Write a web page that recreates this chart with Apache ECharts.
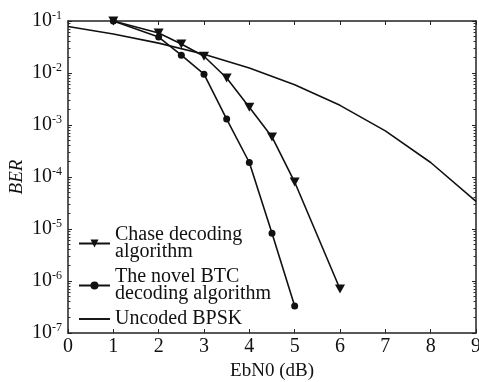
<!DOCTYPE html>
<html>
<head>
<meta charset="utf-8">
<script src="https://cdn.jsdelivr.net/npm/echarts@6/dist/echarts.min.js"></script>
<style>
  html, body { margin: 0; padding: 0; background: #fff; }
  #chart { width: 479px; height: 382px; }
</style>
</head>
<body>
<div id="chart"></div>
<script>
// values
const chaseX = [1, 2, 2.5, 3, 3.5, 4, 4.5, 5, 6];
const chaseBer = [0.1, 0.059, 0.036, 0.021, 0.008, 0.0022, 5.9e-4, 8e-5, 7e-7];
const novelX = [1, 2, 2.5, 3, 3.5, 4, 4.5, 5];
const novelBer = [0.1, 0.049, 0.022, 0.0095, 0.0013, 1.9e-4, 8.3e-6, 3.3e-7];
const bpskX = [0, 1, 2, 3, 4, 5, 6, 7, 8, 9];
const bpskBer = [0.0786, 0.0563, 0.0375, 0.0229, 0.0125, 0.00595, 0.00239, 7.7e-4, 1.9e-4, 3.4e-5];
const xTicks = [0, 1, 2, 3, 4, 5, 6, 7, 8, 9];
const decades = [-7, -6, -5, -4, -3, -2];

const serif = '"Liberation Serif", "DejaVu Serif", serif';
const pairs = (xs, ys) => xs.map((x, i) => [x, ys[i]]);
const downTri = 'path://M0,0 L10,0 L5,9 Z';
const lineIcon = 'path://M0,0 L32,0 L32,2 L0,2 Z';

// minor tick spots, as exponents, for an overlay grid with a linear axis
const minorTicks = [];
decades.forEach(e => { for (let k = 2; k <= 9; k++) minorTicks.push(e + Math.log10(k)); });

const chart = echarts.init(document.getElementById('chart'));

const expLabel = v => '{b|10}{s|' + Math.round(Math.log10(v)) + '}';
const gridBox = { left: 68, right: 3, top: 21, bottom: 49, outerBoundsMode: 'none' };
const frameLine = { show: true, onZero: false, lineStyle: { color: '#222', width: 1.5 } };

const minorAxis = pos => ({
  gridIndex: 1, type: 'value', min: -7, max: -1, position: pos,
  axisLine: { show: false, onZero: false },
  axisTick: { show: true, inside: true, length: 2.5, customValues: minorTicks, lineStyle: { color: '#333' } },
  axisLabel: { show: false },
  splitLine: { show: false }
});

chart.setOption({
  animation: false,
  grid: [gridBox, Object.assign({}, gridBox)],
  xAxis: [
    {
      type: 'value', min: 0, max: 9, interval: 1, position: 'bottom',
      name: 'EbN0 (dB)', nameLocation: 'middle', nameGap: 29,
      nameTextStyle: { fontFamily: serif, fontSize: 19, color: '#111' },
      axisLine: frameLine,
      axisTick: { inside: true, length: 4, lineStyle: { color: '#222' } },
      axisLabel: {
        fontFamily: serif, fontSize: 20, color: '#111', margin: 4,
        formatter: v => xTicks.includes(v) ? String(v) : ''
      },
      splitLine: { show: false }
    },
    {
      type: 'value', min: 0, max: 9, interval: 1, position: 'top',
      axisLine: frameLine,
      axisTick: { inside: true, length: 4, lineStyle: { color: '#222' } },
      axisLabel: { show: false },
      splitLine: { show: false }
    },
    {
      gridIndex: 1, type: 'value', min: 0, max: 9,
      axisLine: { show: false, onZero: false }, axisTick: { show: false },
      axisLabel: { show: false }, splitLine: { show: false }
    }
  ],
  yAxis: [
    {
      type: 'log', logBase: 10, min: 1e-7, max: 1e-1, position: 'left',
      name: 'BER', nameLocation: 'middle', nameGap: 42, nameRotate: 90, nameMoveOverlap: false,
      nameTextStyle: { fontFamily: serif, fontSize: 19, fontStyle: 'italic', color: '#111' },
      axisLine: frameLine,
      axisTick: { inside: true, length: 4, lineStyle: { color: '#222' } },
      axisLabel: {
        margin: 6, formatter: expLabel,
        rich: {
          b: { fontFamily: serif, fontSize: 20, color: '#111' },
          s: { fontFamily: serif, fontSize: 12, color: '#111', padding: [0, 0, 10, 0] }
        }
      },
      splitLine: { show: false }
    },
    {
      type: 'log', logBase: 10, min: 1e-7, max: 1e-1, position: 'right',
      axisLine: frameLine,
      axisTick: { inside: true, length: 4, lineStyle: { color: '#222' } },
      axisLabel: { show: false },
      splitLine: { show: false }
    },
    minorAxis('left'),
    minorAxis('right')
  ],
  legend: {
    orient: 'vertical', left: 78, top: 225, padding: 0,
    itemWidth: 31, itemHeight: 10, itemGap: 5, textGap: 4,
    textStyle: { fontFamily: serif, fontSize: 20, color: '#111', lineHeight: 17 },
    data: [
      { name: 'Chase decoding\nalgorithm' },
      { name: 'The novel BTC\ndecoding algorithm' },
      { name: 'Uncoded BPSK', icon: lineIcon, itemStyle: { color: '#111' } }
    ]
  },
  series: [
    {
      name: 'Chase decoding\nalgorithm', type: 'line',
      data: pairs(chaseX, chaseBer),
      symbol: downTri, symbolSize: [10, 9],
      lineStyle: { color: '#111', width: 1.6 },
      itemStyle: { color: '#111' }
    },
    {
      name: 'The novel BTC\ndecoding algorithm', type: 'line',
      data: pairs(novelX, novelBer),
      symbol: 'circle', symbolSize: 7,
      lineStyle: { color: '#111', width: 1.6 },
      itemStyle: { color: '#111' }
    },
    {
      name: 'Uncoded BPSK', type: 'line',
      data: pairs(bpskX, bpskBer),
      symbol: 'none',
      lineStyle: { color: '#111', width: 1.6 },
      itemStyle: { color: '#111' }
    }
  ]
});
</script>
</body>
</html>
